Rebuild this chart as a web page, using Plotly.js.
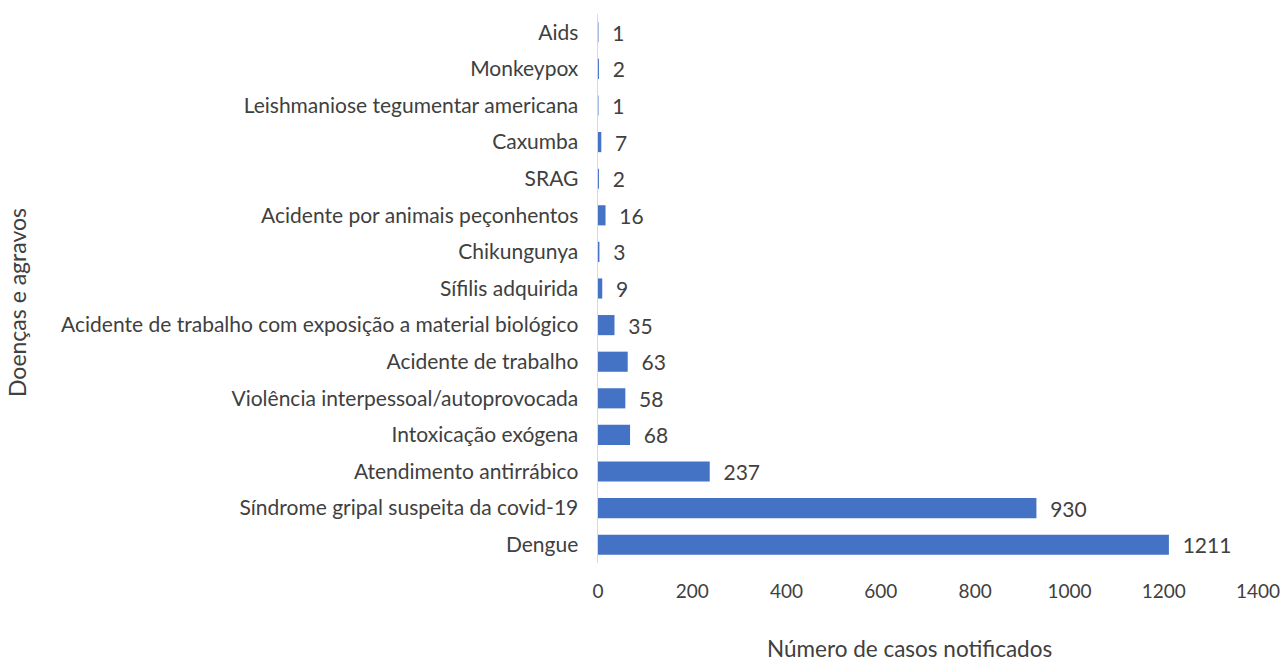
<!DOCTYPE html>
<html>
<head>
<meta charset="utf-8">
<script src="https://cdn.plot.ly/plotly-3.0.1.min.js"></script>
<style>html,body{margin:0;padding:0;background:#fff;}#chart{width:1280px;height:661px;}</style>
</head>
<body>
<div id="chart"></div>
<script>
const categories = [
  "Dengue",
  "Síndrome gripal suspeita da covid-19",
  "Atendimento antirrábico",
  "Intoxicação exógena",
  "Violência interpessoal/autoprovocada",
  "Acidente de trabalho",
  "Acidente de trabalho com exposição a material biológico",
  "Sífilis adquirida",
  "Chikungunya",
  "Acidente por animais peçonhentos",
  "SRAG",
  "Caxumba",
  "Leishmaniose tegumentar americana",
  "Monkeypox",
  "Aids"
];
const cases = [1211, 930, 237, 68, 58, 63, 35, 9, 3, 16, 2, 7, 1, 2, 1];
const xTicks = [0, 200, 400, 600, 800, 1000, 1200, 1400];
const xTitle = "Número de casos notificados";
const yTitle = "Doenças e agravos";

const FONT = "Lato, 'Open Sans', sans-serif";
const FS = 21;
const COL = "#404040";
const trace = {
  type: "bar",
  orientation: "h",
  y: categories,
  x: cases,
  marker: {color: "#4472C4"},
  text: cases.map(v => "  " + v),
  textposition: "outside",
  constraintext: "none",
  textfont: {family: FONT, size: FS, color: COL},
  cliponaxis: false,
  hoverinfo: "x+y"
};
const layout = {
  width: 1280, height: 661,
  margin: {l: 598, r: 22, t: 14, b: 98},
  paper_bgcolor: "#fff", plot_bgcolor: "#fff",
  font: {family: FONT, size: FS, color: COL},
  showlegend: false,
  bargap: 0.45,
  xaxis: {
    range: [0, 1400], tickvals: xTicks, ticktext: xTicks.map(String),
    showgrid: false, zeroline: false, showline: false,
    ticks: "outside", ticklen: 11, tickcolor: "rgba(0,0,0,0)",
    ticklabeloverflow: "allow",
    tickfont: {family: FONT, size: 19, color: COL},
    automargin: false
  },
  yaxis: {
    type: "category", categoryorder: "array", categoryarray: categories,
    showgrid: false, zeroline: false, showline: true, linecolor: "#d9d9d9", linewidth: 1.5,
    ticks: "outside", ticklen: 14, tickcolor: "rgba(0,0,0,0)",
    tickfont: {family: FONT, size: FS, color: COL},
    automargin: false
  },
  annotations: [
    {
      text: yTitle, textangle: -90, xref: "paper", yref: "paper",
      x: 0, xanchor: "center", yanchor: "middle", xshift: -581, y: 0.4736, showarrow: false,
      font: {family: FONT, size: 23, color: COL}
    },
    {
      text: xTitle, xref: "paper", yref: "paper",
      x: 0.4727, y: 0, xanchor: "center", yanchor: "middle", yshift: -85, showarrow: false,
      font: {family: FONT, size: 22.5, color: COL}
    }
  ]
};
Plotly.newPlot("chart", [trace], layout, {displayModeBar: false, staticPlot: true});
</script>
</body>
</html>
